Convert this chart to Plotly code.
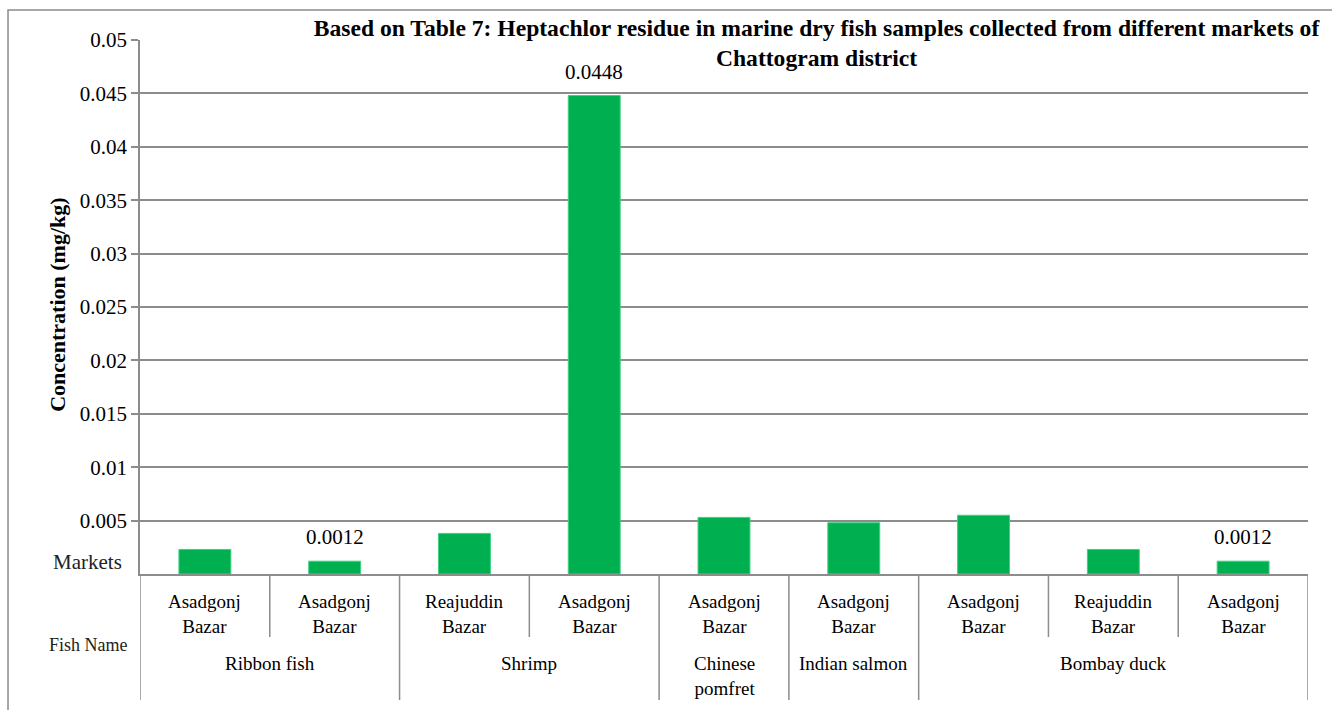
import plotly.graph_objects as go

fish_names = ["Ribbon fish", "Ribbon fish", "Shrimp", "Shrimp", "Chinese<br>pomfret",
              "Indian salmon", "Bombay duck", "Bombay duck", "Bombay duck"]
markets = ["Asadgonj<br>Bazar", "Asadgonj<br>Bazar", "Reajuddin<br>Bazar", "Asadgonj<br>Bazar",
           "Asadgonj<br>Bazar", "Asadgonj<br>Bazar", "Asadgonj<br>Bazar", "Reajuddin<br>Bazar",
           "Asadgonj<br>Bazar"]
concentration = [0.0023, 0.0012, 0.0038, 0.0448, 0.0053, 0.0048, 0.0055, 0.0023, 0.0012]
bar_labels = ["", "0.0012", "", "0.0448", "", "", "", "", "0.0012"]
y_ticks = [0.005, 0.01, 0.015, 0.02, 0.025, 0.03, 0.035, 0.04, 0.045, 0.05]
y_tick_text = ["0.005", "0.01", "0.015", "0.02", "0.025", "0.03", "0.035", "0.04", "0.045", "0.05"]

positions = list(range(len(concentration)))

FONT = "Liberation Serif, Times New Roman, serif"
GRAY = "#8c8c8c"
ROW1 = -0.118
ROW2 = -0.236

fig = go.Figure()
fig.add_trace(go.Bar(
    x=positions,
    y=concentration,
    marker=dict(color="#00B050", line=dict(color="#3fd07f", width=1)),
    width=0.4,
    hovertext=[f"{f.replace('<br>', ' ')} - {m.replace('<br>', ' ')}" for f, m in zip(fish_names, markets)],
    hoverinfo="text+y",
))

annotations = []
shapes = []
for p, v, lab in zip(positions, concentration, bar_labels):
    if lab:
        annotations.append(dict(x=p, y=v, xref="x", yref="y", text=lab, showarrow=False,
                                yanchor="bottom", yshift=10, font=dict(size=21, color="black", family=FONT)))

# market labels (first row)
for p, m in zip(positions, markets):
    annotations.append(dict(x=p, y=-0.074, xref="x", yref="paper", text=m, showarrow=False,
                            yanchor="middle", font=dict(size=19, color="black", family=FONT)))

# fish groups (second row)
groups = []
for p, f in zip(positions, fish_names):
    if groups and groups[-1][0] == f:
        groups[-1][2] = p
    else:
        groups.append([f, p, p])
for f, a, b in groups:
    annotations.append(dict(x=(a + b) / 2, y=-0.144, xref="x", yref="paper", text=f, showarrow=False,
                            yanchor="top", font=dict(size=19, color="black", family=FONT)))

# table lines
group_edges = set()
for f, a, b in groups:
    group_edges.add(a - 0.5)
    group_edges.add(b + 0.5)
for p in positions + [positions[-1] + 1]:
    e = p - 0.5
    shapes.append(dict(type="line", xref="x", yref="paper", x0=e, x1=e, y0=0,
                       y1=ROW2 if e in group_edges else ROW1,
                       line=dict(color=GRAY, width=1.5)))

annotations += [
    dict(x=-0.0137, y=0.0225, xref="paper", yref="paper", text="Markets", showarrow=False,
         xanchor="right", yanchor="middle", font=dict(size=21, color="#222", family=FONT)),
    dict(x=-0.0086, y=-0.133, xref="paper", yref="paper", text="Fish Name", showarrow=False,
         xanchor="right", yanchor="middle", font=dict(size=18, color="#222", family=FONT)),
    dict(x=-0.0702, y=0.504, xref="paper", yref="paper", text="<b>Concentration (mg/kg)</b>",
         showarrow=False, textangle=-90, xanchor="center", yanchor="middle",
         font=dict(size=22, color="black", family=FONT)),
]

shapes.append(dict(type="rect", xref="paper", yref="paper", x0=-0.113, x1=1.2, y0=-0.5, y1=1.056,
                   line=dict(color=GRAY, width=1.5), layer="below"))

fig.update_layout(
    width=1332, height=710,
    margin=dict(l=140, r=24, t=40, b=136),
    paper_bgcolor="white", plot_bgcolor="white",
    font=dict(family=FONT, size=19, color="black"),
    showlegend=False,
    title=dict(text="<b>Based on Table 7: Heptachlor residue in marine dry fish samples collected from different markets of<br>Chattogram district</b>",
               x=0.613, xanchor="center", y=0.95, yanchor="top",
               font=dict(size=23.6, family=FONT, color="black")),
    annotations=annotations,
    shapes=shapes,
)

fig.update_yaxes(
    range=[0, 0.05], tickvals=y_ticks, ticktext=y_tick_text,
    showgrid=True, gridcolor=GRAY, gridwidth=1.5,
    showline=True, linecolor=GRAY, linewidth=1.5,
    ticks="outside", ticklen=7, tickcolor=GRAY, tickwidth=1.5,
    tickfont=dict(size=21, family=FONT),
    zeroline=False,
)
fig.update_xaxes(
    range=[-0.5, len(positions) - 0.5],
    showline=True, linecolor=GRAY, linewidth=1.5,
    showticklabels=False, ticks="",
    showgrid=False, zeroline=False,
)

fig.write_html("out.html")
